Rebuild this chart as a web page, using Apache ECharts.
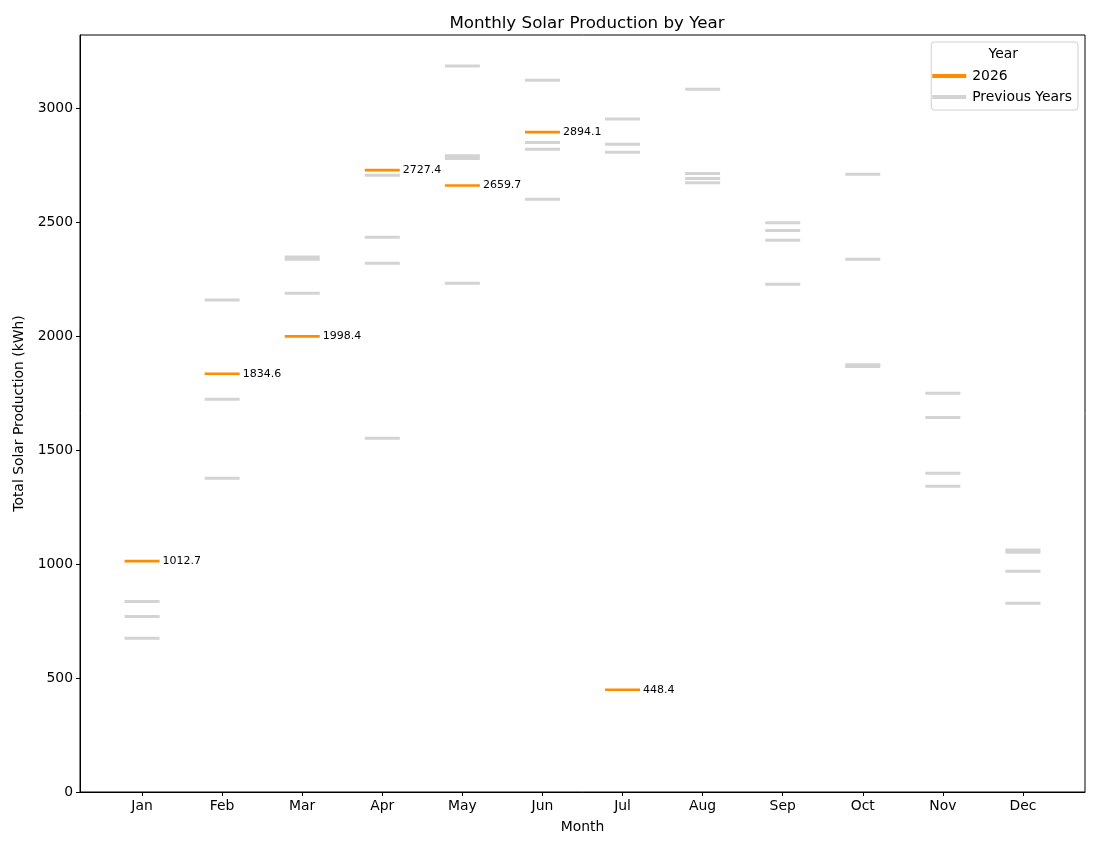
<!DOCTYPE html>
<html>
<head>
<meta charset="utf-8">
<script src="https://cdn.jsdelivr.net/npm/echarts@6/dist/echarts.min.js"></script>
<style>
  html, body { margin: 0; padding: 0; background: #fff; }
  #main { width: 1100px; height: 850px; }
</style>
</head>
<body>
<div id="main"></div>
<script>
const months = ['Jan', 'Feb', 'Mar', 'Apr', 'May', 'Jun', 'Jul', 'Aug', 'Sep', 'Oct', 'Nov', 'Dec']
const monthTicks = [0, 1, 2, 3, 4, 5, 6, 7, 8, 9, 10, 11]
const yTicks = [0, 500, 1000, 1500, 2000, 2500, 3000]

// 2026 totals (kWh), null = no data yet
const current2026 = [1012.7, 1834.6, 1998.4, 2727.4, 2659.7, 2894.1, 448.4, null, null, null, null, null]

// earlier years, grouped by month
const prevJan = [836, 770, 674]
const prevFeb = [2158, 1722, 1376]
const prevMar = [2346, 2336, 2187]
const prevApr = [2705, 2433, 2319, 1551]
const prevMay = [3184, 2790, 2778, 2231]
const prevJun = [3121, 2849, 2819, 2600]
const prevJul = [2952, 2841, 2806]
const prevAug = [3082, 2713, 2691, 2672]
const prevSep = [2497, 2463, 2420, 2227]
const prevOct = [2709, 2336, 1874, 1866]
const prevNov = [1749, 1643, 1398, 1341]
const prevDec = [1061, 1051, 968, 828]
const prevByMonth = [prevJan, prevFeb, prevMar, prevApr, prevMay, prevJun, prevJul, prevAug, prevSep, prevOct, prevNov, prevDec]

const font = 'DejaVu Sans'

const prevData = []
prevByMonth.forEach((vals, i) => {
  vals.forEach(v => prevData.push([i, v]))
})
const curData = current2026.map((v, i) => [i, v]).filter(d => d[1] != null)

const chart = echarts.init(document.getElementById('main'), null, { renderer: 'canvas' })

const option = {
  animation: false,
  backgroundColor: '#ffffff',
  textStyle: { fontFamily: font },
  title: {
    text: 'Monthly Solar Production by Year',
    left: 582,
    top: 10,
    textAlign: 'center',
    textStyle: { fontFamily: font, fontSize: 16.7, fontWeight: 'normal', color: '#000' }
  },
  grid: {
    left: 80,
    right: 15,
    top: 35,
    bottom: 58,
    show: true,
    borderColor: '#000',
    borderWidth: 1,
    backgroundColor: 'transparent'
  },
  legend: {
    orient: 'vertical',
    right: 22,
    top: 42,
    align: 'left',
    padding: [27, 6, 6, 1],
    itemGap: 7,
    itemWidth: 34,
    itemHeight: 4,
    icon: 'rect',
    backgroundColor: '#fff',
    borderColor: '#d0d0d0',
    borderWidth: 1,
    borderRadius: 3,
    z: 5,
    data: ['2026', 'Previous Years'],
    textStyle: { fontFamily: font, fontSize: 13.9, color: '#000', padding: [0, 0, 0, 1] }
  },
  graphic: [{
    type: 'text',
    right: 82,
    top: 47,
    z: 100,
    zlevel: 1,
    style: { text: 'Year', font: '13.9px "DejaVu Sans"', fill: '#000' }
  }],
  xAxis: {
    type: 'value',
    min: -0.775,
    max: 11.775,
    name: 'Month',
    nameLocation: 'middle',
    nameGap: 28,
    nameTextStyle: { fontFamily: font, fontSize: 13.9, color: '#000' },
    splitLine: { show: false },
    axisLine: { show: true, onZero: false, lineStyle: { color: '#000', width: 1 } },
    axisTick: { show: true, length: 4, inside: false, customValues: monthTicks, lineStyle: { color: '#000' } },
    axisLabel: {
      customValues: monthTicks,
      formatter: v => months[Math.round(v)],
      margin: 7,
      fontFamily: font,
      fontSize: 13.9,
      color: '#000'
    }
  },
  yAxis: {
    type: 'value',
    min: 0,
    max: 3320,
    name: 'Total Solar Production (kWh)',
    nameLocation: 'middle',
    nameGap: 50,
    nameTextStyle: { fontFamily: font, fontSize: 13.9, color: '#000' },
    splitLine: { show: false },
    axisLine: { show: true, onZero: false, lineStyle: { color: '#000', width: 1 } },
    axisTick: { show: true, length: 4, customValues: yTicks, lineStyle: { color: '#000' } },
    axisLabel: {
      customValues: yTicks,
      formatter: v => String(v),
      margin: 7,
      fontFamily: font,
      fontSize: 13.9,
      color: '#000'
    }
  },
  series: [
    {
      name: 'Previous Years',
      type: 'scatter',
      symbol: 'rect',
      symbolSize: [35, 3],
      itemStyle: { color: '#d3d3d3', opacity: 1 },
      emphasis: { disabled: true },
      data: prevData,
      z: 2
    },
    {
      name: '2026',
      type: 'scatter',
      symbol: 'rect',
      symbolSize: [35, 2.6],
      itemStyle: { color: '#ff8c00', opacity: 1 },
      emphasis: { disabled: true },
      label: {
        show: true,
        position: 'right',
        distance: 3,
        formatter: p => p.value[1].toFixed(1),
        fontFamily: font,
        fontSize: 11,
        color: '#000'
      },
      data: curData,
      z: 3
    }
  ]
}

chart.setOption(option)
</script>
</body>
</html>
